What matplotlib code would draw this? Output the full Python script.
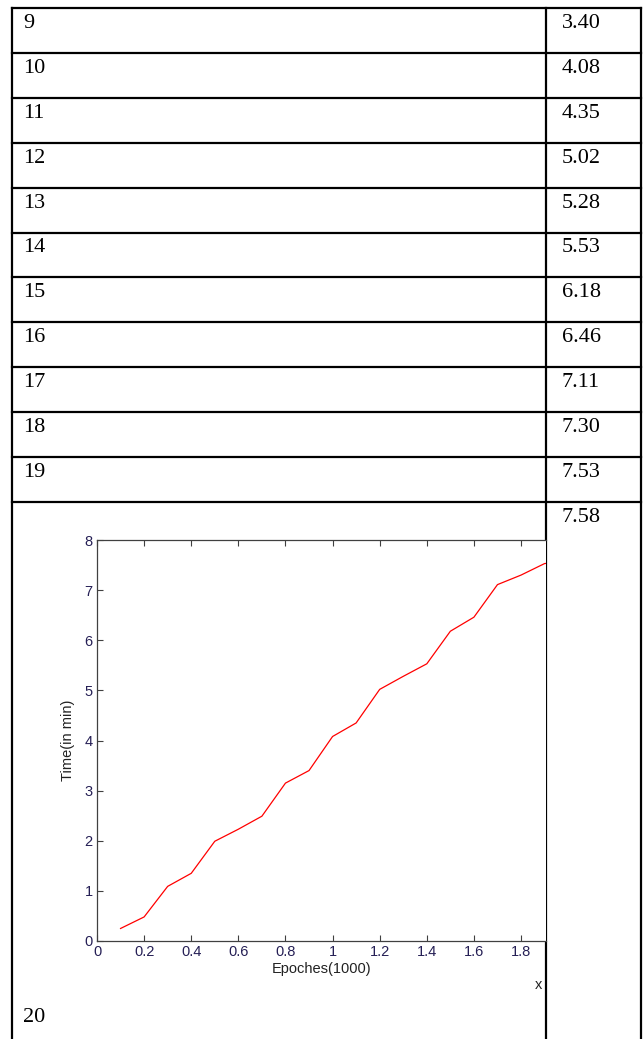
import matplotlib
matplotlib.use("Agg")
import matplotlib.pyplot as plt
import numpy as np

# Table rows: epoch number (hundreds) and training time in minutes
epochs = [9, 10, 11, 12, 13, 14, 15, 16, 17, 18, 19, 20]
times = ["3.40", "4.08", "4.35", "5.02", "5.28", "5.53", "6.18", "6.46", "7.11", "7.30", "7.53", "7.58"]

# Curve shown in the last cell
curve_epochs = [0.1, 0.2, 0.3, 0.4, 0.5, 0.6, 0.7, 0.8, 0.9, 1.0,
                1.1, 1.2, 1.3, 1.4, 1.5, 1.6, 1.7, 1.8, 1.9, 2.0]
curve_times = [0.25, 0.48, 1.09, 1.35, 1.99, 2.23, 2.49, 3.15, 3.40, 4.08,
               4.35, 5.02, 5.28, 5.53, 6.18, 6.46, 7.11, 7.30, 7.53, 7.58]

W, H = 644, 1039
fig = plt.figure(figsize=(W / 100, H / 100), dpi=100)

# pixel-space axes for the table grid
tab = fig.add_axes([0, 0, 1, 1])
tab.set_xlim(0, W)
tab.set_ylim(H, 0)
tab.axis("off")

x_left, x_mid, x_right = 12, 546, 641
y_top, row_h = 8, 44.9
n_short = len(epochs) - 1
lw = 1.6

serif = "Liberation Serif"
fs = 16
for i in range(n_short + 1):
    y = y_top + i * row_h
    tab.plot([x_left, x_right], [y, y], color="black", lw=lw, solid_capstyle="projecting")
y_last = y_top + n_short * row_h
tab.plot([x_left, x_left], [y_top, H], color="black", lw=lw)
tab.plot([x_mid, x_mid], [y_top, H], color="black", lw=lw, zorder=5)
tab.plot([x_right, x_right], [y_top, H], color="black", lw=lw)

for i in range(n_short):
    y = y_top + i * row_h + 6
    tab.text(x_left + 11, y, str(epochs[i]), fontsize=fs, family=serif, va="top", ha="left")
    tab.text(x_mid + 16, y, times[i], fontsize=fs, family=serif, va="top", ha="left")

tab.text(x_mid + 16, y_last + 6, times[-1], fontsize=fs, family=serif, va="top", ha="left")
tab.text(x_left + 11, 1027, str(epochs[-1]), fontsize=fs, family=serif, va="bottom", ha="left")

# the embedded chart
ax_l, ax_r, ax_t, ax_b = 97, x_mid, 540, 941
ax = fig.add_axes([ax_l / W, 1 - ax_b / H, (ax_r - ax_l) / W, (ax_b - ax_t) / H])
ax.plot(curve_epochs, curve_times, color="red", lw=0.9, clip_on=True)
ax.set_xlim(0, 1.906)
ax.set_ylim(0, 8)
ax.set_xticks(np.arange(0, 1.81, 0.2))
ax.set_xticklabels(["0", "0.2", "0.4", "0.6", "0.8", "1", "1.2", "1.4", "1.6", "1.8"])
ax.set_yticks(range(0, 9))

sans = "Liberation Sans"
tick_col = "#251f55"
axis_col = "#404040"
ax.tick_params(direction="in", length=4, width=0.8, color=axis_col, top=True, right=False,
               labelsize=10.5, labelcolor=tick_col, pad=3)
for lab in ax.get_xticklabels() + ax.get_yticklabels():
    lab.set_family(sans)
for side in ["left", "bottom", "top"]:
    ax.spines[side].set_color(axis_col)
    ax.spines[side].set_linewidth(0.9)
ax.spines["right"].set_visible(False)

ax.set_xlabel("Epoches(1000)", family=sans, fontsize=10.5, color="#222222", labelpad=2)
ax.set_ylabel("Time(in min)", family=sans, fontsize=10.5, color="#222222", labelpad=7)
tab.text(539, 985, "x", family=sans, fontsize=10.5, color="#222222", ha="center", va="center")

fig.savefig("out.png", dpi=100)
